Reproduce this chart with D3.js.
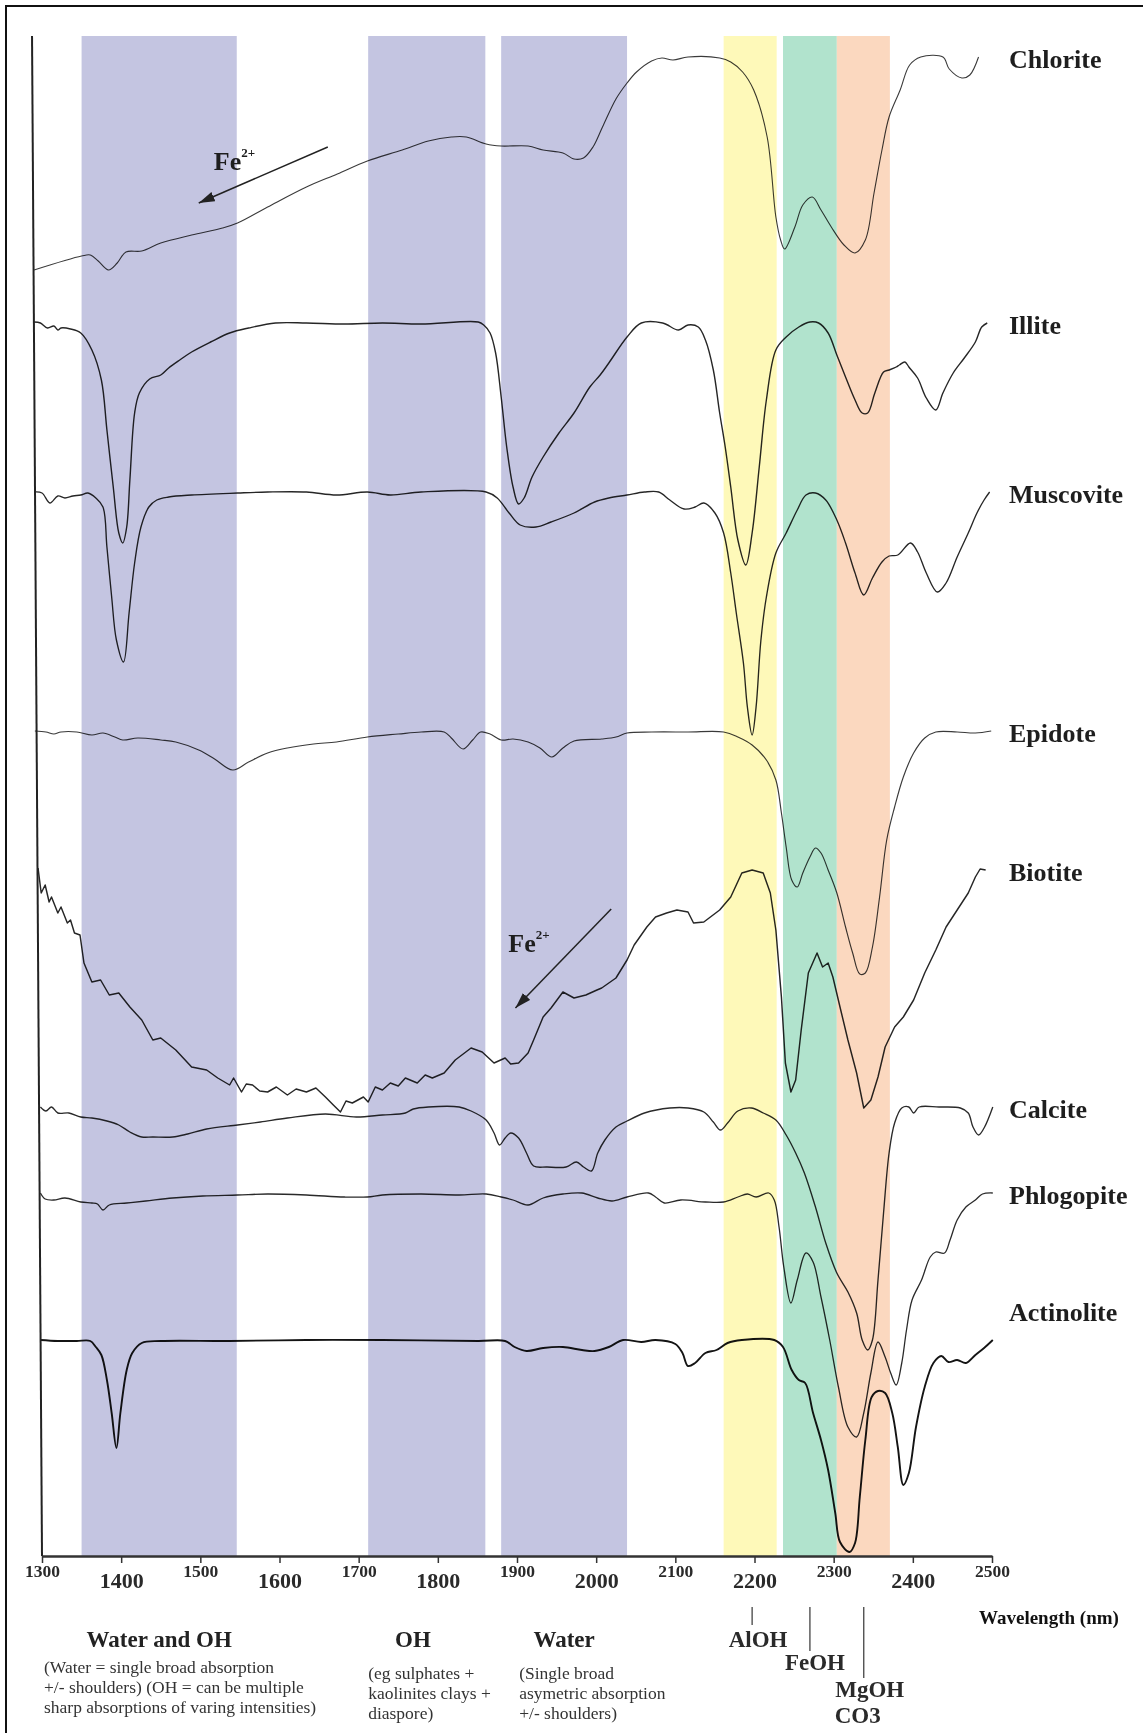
<!DOCTYPE html>
<html>
<head>
<meta charset="utf-8">
<script src="https://cdn.jsdelivr.net/npm/d3@7"></script>
<style>
  html, body { margin: 0; padding: 0; background: #fff; }
  svg { display: block; }
  text { font-family: "Liberation Serif", "Times New Roman", serif; }
</style>
</head>
<body>
<svg id="chart" width="1143" height="1733"></svg>
<script>
// ---- Wavelength axis ----------------------------------------------------
const wavelengthTicks = [1300, 1400, 1500, 1600, 1700, 1800, 1900, 2000, 2100, 2200, 2300, 2400, 2500];

// ---- Diagnostic absorption windows (nm) ---------------------------------
const bandNames  = ["Water and OH", "OH", "Water", "AlOH", "FeOH", "MgOH / CO3"];
const bandStart  = [1350, 1712, 1880, 2161, 2236, 2304];
const bandEnd    = [1546, 1860, 2039, 2228, 2304, 2371];

// ---- Feature markers below the axis ------------------------------------
const featureNames       = ["AlOH", "FeOH", "MgOH"];
const featureWavelengths = [2197, 2270, 2338];

// ---- Region captions ----------------------------------------------------
const regionTitles = ["Water and OH", "OH", "Water"];
const regionNotes = [
  ["(Water = single broad absorption", "+/- shoulders) (OH = can be multiple", "sharp absorptions of varing intensities)"],
  ["(eg sulphates +", "kaolinites clays +", "diaspore)"],
  ["(Single broad", "asymetric absorption", "+/- shoulders)"]
];

// ---- Spectra: [wavelength nm, reflectance (offset for clarity, arb. units)]
const chlorite = [[1290,128.6],[1350,130.0],[1361,130.1],[1371,129.5],[1384,128.6],[1395,129.3],[1406,130.4],[1426,130.5],[1450,131.3],[1489,132.1],[1528,132.8],[1547,133.3],[1585,134.9],[1634,136.9],[1673,138.2],[1711,139.5],[1755,140.6],[1788,141.5],[1817,141.9],[1836,141.9],[1861,141.2],[1880,141.0],[1914,141.0],[1933,140.6],[1958,140.3],[1972,139.7],[1984,139.8],[1996,140.9],[2008,142.9],[2025,145.7],[2039,147.3],[2051,148.4],[2070,149.5],[2083,149.8],[2097,149.6],[2116,149.9],[2156,149.8],[2170,149.4],[2185,148.4],[2199,146.6],[2216,141.9],[2227,133.9],[2233,131.6],[2238,130.7],[2251,132.9],[2261,135.1],[2273,135.9],[2284,134.6],[2297,132.9],[2313,131.1],[2327,130.3],[2340,131.6],[2351,136.3],[2361,140.6],[2370,143.9],[2384,146.6],[2396,149.1],[2410,149.9],[2438,149.9],[2446,148.7],[2462,147.8],[2472,148.1],[2483,149.9]];

const illite = [[1290,123.4],[1298,123.3],[1307,122.8],[1315,123.0],[1320,122.6],[1324,122.8],[1336,122.7],[1349,122.3],[1363,120.6],[1375,117.6],[1382,112.6],[1390,106.9],[1397,102.3],[1402,101.3],[1407,102.9],[1411,107.6],[1417,114.3],[1423,116.3],[1436,117.7],[1450,118.1],[1460,118.8],[1474,119.6],[1489,120.4],[1513,121.4],[1537,122.3],[1561,122.8],[1595,123.3],[1634,123.3],[1682,123.2],[1730,123.3],[1779,123.2],[1851,123.4],[1858,123.1],[1866,122.3],[1873,120.3],[1880,115.9],[1887,110.9],[1895,106.9],[1902,105.2],[1909,105.8],[1919,107.9],[1933,109.9],[1953,112.3],[1972,114.3],[1992,116.9],[2005,118.1],[2016,119.3],[2039,121.9],[2057,123.3],[2084,123.3],[2104,122.6],[2116,123.1],[2129,122.9],[2138,121.6],[2148,118.6],[2156,114.3],[2163,110.9],[2170,106.9],[2179,101.6],[2189,99.1],[2197,102.3],[2206,108.9],[2215,115.6],[2227,120.6],[2240,121.9],[2256,122.9],[2270,123.4],[2281,123.3],[2293,122.3],[2304,120.1],[2315,117.9],[2327,115.6],[2336,114.3],[2343,114.3],[2352,116.3],[2363,118.4],[2370,118.6],[2379,118.9],[2383,119.1],[2390,119.4],[2395,118.9],[2406,117.8],[2417,115.8],[2429,114.6],[2438,116.3],[2451,118.3],[2465,119.8],[2479,121.4],[2487,122.9],[2494,123.3]];

const muscovite = [[1290,106.4],[1300,106.3],[1310,105.3],[1320,106.0],[1329,105.8],[1339,106.0],[1349,106.1],[1358,106.3],[1368,105.8],[1377,104.9],[1382,100.9],[1388,95.9],[1394,91.6],[1403,89.4],[1410,94.3],[1417,99.3],[1425,102.9],[1435,104.9],[1445,105.6],[1460,105.9],[1489,106.1],[1547,106.3],[1585,106.4],[1634,106.4],[1672,106.1],[1711,106.4],[1740,106.1],[1779,106.4],[1861,106.4],[1875,105.8],[1890,104.3],[1904,103.1],[1924,102.9],[1943,103.4],[1972,104.3],[1998,105.4],[2016,105.8],[2039,106.1],[2061,106.4],[2079,106.4],[2093,105.6],[2111,104.7],[2125,104.9],[2136,105.3],[2150,104.3],[2161,102.3],[2170,98.3],[2177,94.3],[2186,89.3],[2191,84.9],[2197,82.1],[2202,84.9],[2208,91.5],[2215,95.9],[2227,100.3],[2240,102.3],[2254,104.6],[2265,106.1],[2277,106.3],[2290,105.6],[2304,103.6],[2315,101.3],[2327,98.3],[2338,96.1],[2349,97.8],[2361,99.4],[2370,100.0],[2381,100.1],[2397,101.3],[2406,100.4],[2417,98.3],[2431,96.4],[2442,97.3],[2456,99.9],[2470,102.3],[2481,104.3],[2490,105.6],[2497,106.4]];

const epidote = [[1291,82.5],[1305,82.4],[1315,82.2],[1324,82.4],[1344,82.4],[1363,82.1],[1377,82.3],[1392,81.9],[1402,81.6],[1421,81.8],[1450,81.6],[1469,81.4],[1498,80.6],[1518,79.7],[1541,78.6],[1561,79.4],[1585,80.3],[1610,80.8],[1643,81.2],[1672,81.4],[1711,81.9],[1750,82.2],[1779,82.4],[1808,82.4],[1817,81.8],[1832,80.7],[1844,81.6],[1854,82.4],[1866,82.2],[1880,81.6],[1895,81.7],[1914,81.4],[1929,80.8],[1944,79.9],[1958,80.8],[1972,81.5],[2007,81.7],[2025,81.9],[2039,82.3],[2070,82.4],[2116,82.4],[2161,82.4],[2179,81.9],[2197,81.1],[2215,79.6],[2227,77.6],[2234,74.3],[2240,70.9],[2247,67.6],[2254,66.9],[2261,68.3],[2270,69.9],[2277,70.8],[2284,70.3],[2293,68.6],[2304,66.3],[2315,62.9],[2324,60.3],[2333,58.2],[2340,58.3],[2349,60.9],[2358,65.9],[2367,71.6],[2377,74.9],[2388,77.9],[2401,80.3],[2415,81.8],[2429,82.4],[2456,82.4],[2479,82.3],[2499,82.5]];

const biotite = [[1295,68.8],[1299,66.3],[1304,67.1],[1309,65.4],[1312,65.9],[1320,64.3],[1324,64.9],[1332,63.3],[1336,63.6],[1341,62.3],[1348,62.1],[1353,59.3],[1363,57.4],[1374,57.6],[1385,56.1],[1397,56.3],[1411,54.9],[1426,53.6],[1440,51.6],[1450,51.8],[1469,50.6],[1489,48.9],[1508,48.6],[1522,47.8],[1537,47.1],[1542,47.8],[1552,46.4],[1558,47.2],[1566,47.1],[1575,46.5],[1585,46.4],[1596,46.9],[1610,46.1],[1621,46.7],[1634,46.4],[1646,46.8],[1658,45.9],[1668,45.1],[1677,44.4],[1684,45.5],[1692,45.3],[1706,45.9],[1712,45.4],[1721,46.9],[1730,46.6],[1740,47.3],[1750,47.0],[1759,47.8],[1774,47.3],[1784,48.1],[1793,47.8],[1808,48.3],[1822,49.6],[1842,50.8],[1856,50.4],[1871,49.3],[1885,49.8],[1892,49.2],[1902,49.3],[1914,50.3],[1921,51.6],[1933,53.9],[1943,54.8],[1958,56.4],[1972,55.8],[1987,56.1],[2001,56.6],[2007,56.8],[2025,57.8],[2039,59.6],[2048,61.1],[2064,62.9],[2075,63.9],[2089,64.3],[2102,64.6],[2116,64.4],[2123,63.3],[2136,63.4],[2156,64.6],[2170,65.9],[2184,68.3],[2197,68.6],[2211,68.3],[2220,66.3],[2227,62.6],[2234,55.9],[2239,49.3],[2246,46.4],[2252,47.6],[2259,52.6],[2268,58.3],[2279,60.3],[2286,58.9],[2293,59.3],[2299,57.9],[2308,54.9],[2318,51.6],[2329,48.3],[2338,44.8],[2347,45.6],[2356,47.9],[2365,50.9],[2377,52.9],[2388,53.9],[2401,55.6],[2415,58.3],[2429,60.6],[2442,62.9],[2456,64.6],[2470,66.3],[2479,67.9],[2485,68.7],[2492,68.6]];

const calcite = [[1298,44.9],[1305,44.5],[1312,44.9],[1320,44.3],[1334,44.3],[1349,43.9],[1363,43.8],[1382,43.5],[1397,43.1],[1411,42.4],[1426,41.9],[1440,41.9],[1465,41.9],[1484,42.2],[1508,42.7],[1547,43.1],[1576,43.4],[1610,43.8],[1658,44.2],[1697,43.9],[1730,44.1],[1759,44.3],[1769,44.7],[1788,44.9],[1827,44.9],[1842,44.5],[1861,43.6],[1871,42.3],[1878,41.1],[1885,41.8],[1892,42.3],[1902,41.8],[1912,40.3],[1921,39.0],[1938,38.9],[1962,38.9],[1975,39.4],[1984,38.9],[1994,38.5],[2002,40.3],[2011,41.6],[2025,42.9],[2039,43.5],[2061,44.3],[2093,44.8],[2116,44.8],[2136,44.4],[2148,43.4],[2157,42.6],[2166,43.3],[2179,44.5],[2196,44.8],[2211,44.3],[2227,43.6],[2240,42.1],[2252,40.3],[2263,38.3],[2277,34.9],[2290,31.3],[2304,28.3],[2318,26.4],[2329,24.3],[2336,21.6],[2343,20.6],[2349,21.6],[2356,27.6],[2363,34.3],[2370,40.3],[2377,43.3],[2386,44.8],[2395,44.9],[2401,44.3],[2408,44.9],[2433,44.9],[2460,44.8],[2470,44.3],[2476,42.9],[2483,42.1],[2490,42.8],[2501,44.9]];

const phlogopite = [[1298,36.3],[1304,35.7],[1315,35.6],[1329,35.8],[1349,35.4],[1363,35.3],[1370,35.2],[1377,34.6],[1385,35.1],[1407,35.3],[1431,35.5],[1465,35.8],[1503,36.0],[1547,36.1],[1585,36.2],[1634,36.1],[1682,35.9],[1711,35.9],[1730,36.1],[1779,36.2],[1827,36.1],[1861,36.2],[1880,35.9],[1895,35.6],[1914,35.1],[1933,35.8],[1958,36.2],[1982,36.3],[2002,35.8],[2020,35.5],[2039,35.9],[2066,36.3],[2075,35.9],[2086,35.3],[2107,35.6],[2138,35.4],[2161,35.4],[2179,35.9],[2191,36.2],[2202,35.9],[2218,36.3],[2225,35.6],[2231,32.9],[2237,28.9],[2246,25.3],[2254,27.6],[2265,30.3],[2274,29.4],[2284,25.9],[2295,21.6],[2306,16.9],[2318,12.9],[2329,11.9],[2338,14.3],[2347,18.3],[2356,21.4],[2365,19.9],[2372,18.3],[2379,17.1],[2386,19.3],[2392,22.6],[2399,25.6],[2411,27.6],[2422,29.9],[2429,30.4],[2440,30.3],[2447,31.6],[2456,33.6],[2467,34.9],[2479,35.6],[2488,36.2],[2501,36.3]];

const actinolite = [[1298,21.6],[1320,21.5],[1344,21.5],[1361,21.5],[1368,20.9],[1375,20.1],[1382,17.6],[1388,14.3],[1394,10.8],[1399,14.3],[1407,18.6],[1414,20.3],[1426,21.3],[1450,21.5],[1537,21.5],[1634,21.6],[1730,21.6],[1851,21.5],[1885,21.5],[1897,20.9],[1912,20.5],[1933,20.8],[1958,20.9],[1982,20.6],[1998,20.5],[2016,20.9],[2034,21.6],[2057,21.4],[2075,21.6],[2100,21.2],[2109,20.3],[2116,19.0],[2125,19.3],[2138,20.3],[2152,20.6],[2166,21.3],[2184,21.6],[2225,21.6],[2236,20.9],[2247,18.6],[2256,17.6],[2264,17.3],[2274,14.3],[2284,11.6],[2293,8.6],[2302,4.3],[2308,1.4],[2320,0.4],[2327,1.3],[2333,5.9],[2340,11.6],[2348,15.9],[2356,16.5],[2365,16.3],[2374,14.3],[2381,10.9],[2388,7.1],[2395,8.3],[2404,12.9],[2415,16.9],[2426,19.3],[2436,20.0],[2445,19.4],[2456,19.6],[2467,19.3],[2479,20.1],[2490,20.8],[2501,21.6]];

const mineralNames = ["Chlorite", "Illite", "Muscovite", "Epidote", "Biotite", "Calcite", "Phlogopite", "Actinolite"];
const mineralSpectra = [chlorite, illite, muscovite, epidote, biotite, calcite, phlogopite, actinolite];

// Fe2+ ramps: arrow [from, to] and label anchor, in [nm, reflectance]
const feArrows = [[[1661, 140.9], [1498, 135.3]], [[2019, 64.7], [1898, 54.8]]];
const feLabels = [[1517, 138.6], [1889, 60.4]];

// ---- Layout ------------------------------------------------------------
const W = 1143, H = 1733;
const axisY = 1556, plotTop = 36;
const svg = d3.select("#chart");

const x = d3.scaleLinear().domain([1300, 2500]).range([42, 992]);
const y = d3.scaleLinear().domain([0, 155.6]).range([axisY, 0]);

// Outer frame (only the top and left edges fall inside the page)
svg.append("rect")
  .attr("x", 6).attr("y", 6).attr("width", W + 20).attr("height", H + 20)
  .attr("fill", "none").attr("stroke", "#111").attr("stroke-width", 2);

// Absorption windows
const bandColors = ["#c4c5e1", "#c4c5e1", "#c4c5e1", "#fef9b9", "#b1e3cd", "#fbd8bf"];
svg.append("g").selectAll("rect")
  .data(bandNames.map((n, i) => ({ name: n, a: bandStart[i], b: bandEnd[i], c: bandColors[i] })))
  .join("rect")
  .attr("x", d => x(d.a))
  .attr("width", d => x(d.b) - x(d.a))
  .attr("y", plotTop)
  .attr("height", axisY - plotTop)
  .attr("fill", d => d.c);

// Spectra
const lineStyles = [
  { w: 1.1, c: "#3a3a3a" }, { w: 1.4, c: "#262626" }, { w: 1.35, c: "#262626" },
  { w: 1.15, c: "#3a3a3a" }, { w: 1.45, c: "#262626" }, { w: 1.35, c: "#2a2a2a" },
  { w: 1.3, c: "#2a2a2a" }, { w: 1.9, c: "#141414" }
];
const smoothLine = d3.line().x(d => x(d[0])).y(d => y(d[1])).curve(d3.curveCatmullRom.alpha(0.5));
const jaggedLine = d3.line().x(d => x(d[0])).y(d => y(d[1]));

const spectraG = svg.append("g");
mineralSpectra.forEach((s, i) => {
  spectraG.append("path")
    .attr("d", (mineralNames[i] === "Biotite" ? jaggedLine : smoothLine)(s))
    .attr("fill", "none")
    .attr("stroke", lineStyles[i].c)
    .attr("stroke-width", lineStyles[i].w)
    .attr("stroke-linejoin", "round")
    .style("mix-blend-mode", "multiply");
});

// Mineral names at the right-hand end of each spectrum
const labelNudge = { Actinolite: -30 };
svg.append("g").selectAll("text")
  .data(mineralNames.map((n, i) => ({ n, last: mineralSpectra[i][mineralSpectra[i].length - 1] })))
  .join("text")
  .attr("x", 1009)
  .attr("y", d => y(d.last[1]) + 11 + (labelNudge[d.n] || 0))
  .attr("font-size", 26).attr("font-weight", "bold").attr("fill", "#1e1e1e")
  .text(d => d.n);

// Fe2+ arrows
svg.append("defs").append("marker")
  .attr("id", "head").attr("viewBox", "0 0 16 10")
  .attr("refX", 16).attr("refY", 5)
  .attr("markerWidth", 16).attr("markerHeight", 10)
  .attr("markerUnits", "userSpaceOnUse").attr("orient", "auto")
  .append("path").attr("d", "M0,0 L16,5 L0,10 Z").attr("fill", "#222");

feArrows.forEach(a => {
  svg.append("line")
    .attr("x1", x(a[0][0])).attr("y1", y(a[0][1]))
    .attr("x2", x(a[1][0])).attr("y2", y(a[1][1]))
    .attr("stroke", "#222").attr("stroke-width", 1.5)
    .attr("marker-end", "url(#head)");
});
feLabels.forEach(p => {
  const t = svg.append("text")
    .attr("x", x(p[0])).attr("y", y(p[1]))
    .attr("font-size", 26).attr("font-weight", "bold").attr("fill", "#1e1e1e");
  t.append("tspan").text("Fe");
  t.append("tspan").attr("font-size", 13).attr("dy", -13).text("2+");
});

// Left edge line of the panel
svg.append("line")
  .attr("x1", x(1287.4)).attr("y1", plotTop)
  .attr("x2", x(1300)).attr("y2", axisY)
  .attr("stroke", "#222").attr("stroke-width", 2);

// Wavelength axis
const axisG = svg.append("g").attr("transform", `translate(0,${axisY})`)
  .call(d3.axisBottom(x).tickValues(wavelengthTicks).tickSize(7).tickSizeOuter(0).tickFormat(d3.format("d")));
axisG.select(".domain").attr("stroke", "#333").attr("stroke-width", 2.5);
axisG.selectAll(".tick line").attr("stroke", "#333").attr("stroke-width", 1.5);
axisG.selectAll(".tick text")
  .attr("font-family", "Liberation Serif, Times New Roman, serif")
  .attr("font-weight", "bold")
  .attr("fill", "#2a2a2a")
  .attr("dy", 0)
  .attr("y", d => (d / 100) % 2 === 1 ? 21 : 32)
  .attr("font-size", d => (d / 100) % 2 === 1 ? 17.5 : 22);

svg.append("text")
  .attr("x", 979).attr("y", 1624)
  .attr("font-size", 19).attr("font-weight", "bold").attr("fill", "#111")
  .text("Wavelength (nm)");

// Region captions
const titleX = [x((bandStart[0] + bandEnd[0]) / 2), 413, x((bandStart[2] + bandEnd[2]) / 2)];
const notesX = [44, x(bandStart[1]), x(bandStart[2]) + 18];
const notesY = [[1673, 1693, 1713], [1679, 1699, 1719], [1679, 1699, 1719]];
regionTitles.forEach((t, i) => {
  svg.append("text")
    .attr("x", titleX[i]).attr("y", 1647).attr("text-anchor", "middle")
    .attr("font-size", 23).attr("font-weight", "bold").attr("fill", "#222")
    .text(t);
  regionNotes[i].forEach((line, j) => {
    svg.append("text")
      .attr("x", notesX[i]).attr("y", notesY[i][j])
      .attr("font-size", 17.5).attr("fill", "#333")
      .text(line);
  });
});

// Feature markers (AlOH, FeOH, MgOH / CO3)
const markerBottom = [1625, 1651, 1678];
const markerLabelY = [1647, 1670, 1697];
const markerLabelDx = [6, 5, 6];
featureNames.forEach((n, i) => {
  const fx = x(featureWavelengths[i]);
  svg.append("line")
    .attr("x1", fx).attr("x2", fx).attr("y1", 1607).attr("y2", markerBottom[i])
    .attr("stroke", "#444").attr("stroke-width", 1.3);
  svg.append("text")
    .attr("x", fx + markerLabelDx[i]).attr("y", markerLabelY[i]).attr("text-anchor", "middle")
    .attr("font-size", 23).attr("font-weight", "bold").attr("fill", "#2a2a2a")
    .text(n);
});
svg.append("text")
  .attr("x", x(featureWavelengths[2]) - 6).attr("y", 1723).attr("text-anchor", "middle")
  .attr("font-size", 23).attr("font-weight", "bold").attr("fill", "#2a2a2a")
  .text("CO3");
</script>
</body>
</html>
